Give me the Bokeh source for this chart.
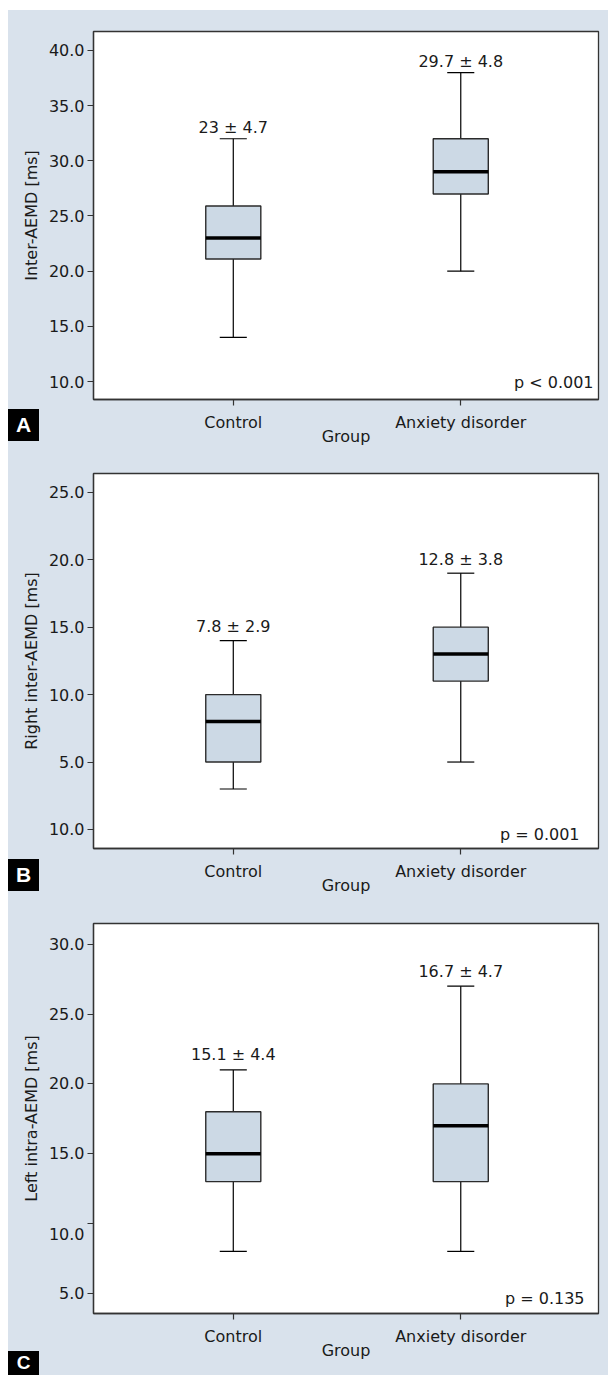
from bokeh.plotting import figure
from bokeh.models import Range1d, FixedTicker, Label, ColumnDataSource, Div, GridBox
from bokeh.embed import file_html
from bokeh.resources import INLINE
from bokeh.core.properties import value

# ---------------- data ----------------
groups = ["Control", "Anxiety disorder"]
group_pos = [1, 2]

# Panel A: Inter-AEMD
a_low = [14.0, 20.0]
a_q1 = [21.1, 27.0]
a_med = [23.0, 29.0]
a_q3 = [25.9, 32.0]
a_high = [32.0, 38.0]
a_text = ["23 \u00b1 4.7", "29.7 \u00b1 4.8"]
a_ticks = [10, 15, 20, 25, 30, 35, 40]
a_tick_labels = ["10.0", "15.0", "20.0", "25.0", "30.0", "35.0", "40.0"]
a_ylabel = "Inter-AEMD [ms]"
a_p = "p < 0.001"

# Panel B: Right inter-AEMD
b_low = [3.0, 5.0]
b_q1 = [5.0, 11.0]
b_med = [8.0, 13.0]
b_q3 = [10.0, 15.0]
b_high = [14.0, 19.0]
b_text = ["7.8 \u00b1 2.9", "12.8 \u00b1 3.8"]
b_ticks = [0, 5, 10, 15, 20, 25]
b_tick_labels = ["10.0", "5.0", "10.0", "15.0", "20.0", "25.0"]
b_ylabel = "Right inter-AEMD [ms]"
b_p = "p = 0.001"

# Panel C: Left intra-AEMD
c_low = [8.0, 8.0]
c_q1 = [13.0, 13.0]
c_med = [15.0, 17.0]
c_q3 = [18.0, 20.0]
c_high = [21.0, 27.0]
c_text = ["15.1 \u00b1 4.4", "16.7 \u00b1 4.7"]
c_ticks = [5, 10, 15, 20, 25, 30]
c_tick_labels = ["5.0", "\n10.0", "15.0", "20.0", "25.0", "30.0"]
c_ylabel = "Left intra-AEMD [ms]"
c_p = "p = 0.135"

# ---------------- style ----------------
FONT = "DejaVu Sans"
FS = "16px"
BG = "#d9e2ec"
BOXFILL = "#ccd9e5"
TXT = "#1a1a1a"
BOX_W = 0.242
CAP_W = 0.119


def make_panel(low, q1, med, q3, high, texts, ticks, tick_labels,
               ylabel, ptext, yr, height, b_top, b_bottom, p_off, t_off):
    p = figure(width=600, height=height, output_backend="svg",
               toolbar_location=None,
               x_range=Range1d(0.3855, 2.6055), y_range=Range1d(*yr))
    p.min_border_left = 85
    p.min_border_right = 10
    p.min_border_top = b_top
    p.min_border_bottom = b_bottom
    p.border_fill_color = BG
    p.background_fill_color = "white"
    p.outline_line_color = "#333333"
    p.outline_line_width = 1.3
    p.xgrid.visible = False
    p.ygrid.visible = False

    src = ColumnDataSource(dict(
        x=group_pos, low=low, q1=q1, med=med, q3=q3, high=high, text=texts,
        x0=[g - BOX_W / 2 for g in group_pos],
        x1=[g + BOX_W / 2 for g in group_pos],
        c0=[g - CAP_W / 2 for g in group_pos],
        c1=[g + CAP_W / 2 for g in group_pos],
    ))

    # whiskers
    p.segment(x0="x", y0="q3", x1="x", y1="high", source=src,
              line_color="black", line_width=1.2)
    p.segment(x0="x", y0="q1", x1="x", y1="low", source=src,
              line_color="black", line_width=1.2)
    # caps
    p.segment(x0="c0", y0="high", x1="c1", y1="high", source=src,
              line_color="black", line_width=1.2)
    p.segment(x0="c0", y0="low", x1="c1", y1="low", source=src,
              line_color="black", line_width=1.2)
    # boxes
    p.vbar(x="x", width=BOX_W, top="q3", bottom="q1", source=src,
           fill_color=BOXFILL, line_color="#2b2b2b", line_width=1.4)
    # medians
    p.segment(x0="x0", y0="med", x1="x1", y1="med", source=src,
              line_color="black", line_width=3.5)
    # mean +- sd labels
    p.text(x="x", y="high", text="text", source=src,
           text_font=value(FONT), text_font_size=FS, text_color=TXT,
           text_align="center", text_baseline="alphabetic", y_offset=t_off)

    # axes
    p.xaxis.ticker = FixedTicker(ticks=group_pos)
    p.xaxis.major_label_overrides = {g: n for g, n in zip(group_pos, groups)}
    p.xaxis.axis_label = "Group"
    p.yaxis.ticker = FixedTicker(ticks=ticks)
    p.yaxis.major_label_overrides = {t: l for t, l in zip(ticks, tick_labels)}
    p.yaxis.axis_label = ylabel
    for ax in (p.xaxis, p.yaxis):
        ax.axis_line_color = "#333333"
        ax.axis_line_width = 1.3
        ax.major_tick_line_color = "#333333"
        ax.major_tick_line_width = 1.2
        ax.major_tick_out = 6
        ax.major_tick_in = 0
        ax.minor_tick_line_color = None
        ax.major_label_text_font = FONT
        ax.major_label_text_font_size = FS
        ax.major_label_text_color = TXT
        ax.axis_label_text_font = FONT
        ax.axis_label_text_font_size = FS
        ax.axis_label_text_font_style = "normal"
        ax.axis_label_text_color = TXT
    p.xaxis.major_label_standoff = 7
    p.xaxis.axis_label_standoff = -8
    p.yaxis.major_label_standoff = 3
    p.yaxis.axis_label_standoff = 5

    # p value
    p.add_layout(Label(x=p.x_range.end, y=yr[0], x_units="data",
                       y_units="data", x_offset=-p_off[0], y_offset=p_off[1],
                       text=ptext, text_font=FONT, text_font_size=FS,
                       text_color=TXT, text_align="right",
                       text_baseline="alphabetic"))
    return p


def letter_box(letter, top, h, fs, lh):
    return Div(text=letter, width=31, height=h, margin=(top, 0, 0, 0),
               styles={"background-color": "black", "color": "white",
                       "font-family": "Liberation Sans, Arial, sans-serif",
                       "font-weight": "bold", "font-size": fs,
                       "text-align": "center", "line-height": lh,
                       "overflow": "hidden"})


pa = make_panel(a_low, a_q1, a_med, a_q3, a_high, a_text, a_ticks,
                a_tick_labels, a_ylabel, a_p, (8.37, 41.72), 449, 21, 60,
                (5, 17), -11)
pb = make_panel(b_low, b_q1, b_med, b_q3, b_high, b_text, b_ticks,
                b_tick_labels, b_ylabel, b_p, (-1.41, 26.39), 450, 14, 61,
                (19, 14), -14)
pc = make_panel(c_low, c_q1, c_med, c_q3, c_high, c_text, c_ticks,
                c_tick_labels, c_ylabel, c_p, (3.55, 31.49), 466, 14, 62,
                (14, 15), -15)

da = letter_box("A", 399, 32, "21px", "32px")
db = letter_box("B", 400, 32, "21px", "32px")
dc = letter_box("C", 442, 24, "19px", "24px")

layout = GridBox(children=[(pa, 0, 0), (da, 0, 0),
                           (pb, 1, 0), (db, 1, 0),
                           (pc, 2, 0), (dc, 2, 0)],
                 spacing=0, margin=(10, 0, 0, 8),
                 styles={"background-color": BG})
open("out.html", "w").write(file_html(layout, INLINE))
